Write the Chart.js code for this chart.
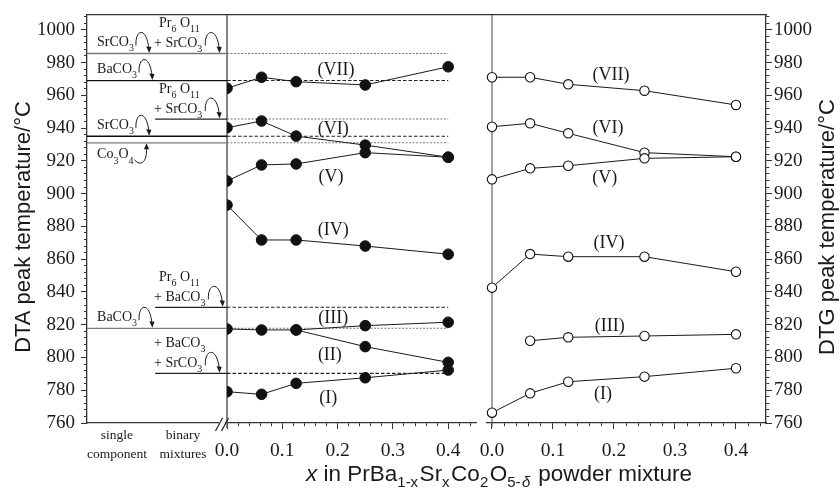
<!DOCTYPE html>
<html><head><meta charset="utf-8">
<script src="https://cdn.jsdelivr.net/npm/chart.js@4/dist/chart.umd.min.js"></script>
<style>html,body{margin:0;padding:0;background:#fff}canvas{display:block}</style>
</head><body>
<canvas id="c" width="840" height="495" style="width:840px;height:495px"></canvas>
<script>
// ---------- data ----------
const xFractions = [0, 0.0625, 0.125, 0.25, 0.4];
const dtaI   = [779.1, 777.5, 784.2, 787.6, 792.3];
const dtaII  = [null, null, 816.8, 806.6, 797.0];
const dtaIII = [817.4, 816.8, 816.8, 819.4, 821.5];
const dtaIV  = [893.0, 871.7, 871.7, 868.0, 863.0];
const dtaV   = [907.7, 917.5, 918.1, 925.0, 922.2];
const dtaVI  = [940.2, 944.3, 935.1, 929.6, 922.2];
const dtaVII = [964.3, 971.0, 968.3, 966.3, 977.4];
const dtgI   = [766.3, 778.1, 785.2, 788.3, 793.4];
const dtgIII = [null, 810.2, 812.3, 813.1, 814.1];
const dtgIV  = [842.6, 863.1, 861.5, 861.5, 852.3];
const dtgV   = [908.7, 915.4, 917.0, 921.5, 922.5];
const dtgVI  = [940.8, 942.9, 936.8, 925.0, 922.5];
const dtgVII = [971.0, 971.0, 966.7, 962.8, 954.1];
const dtaNames = ['(I)','(II)','(III)','(IV)','(V)','(VI)','(VII)'];
const dtgNames = ['(I)','(III)','(IV)','(V)','(VI)','(VII)'];
// reference peaks of single components and binary mixtures
const singleTemps  = [985.5, 969.0, 935.0, 931.0, 817.8];
const singleLabels = ['SrCO_3','BaCO_3','SrCO_3','Co_3O_4','BaCO_3'];
const binaryTemps  = [985.5, 945.5, 830.6, 790.3];
const binaryLabels = [['Pr_6 O_11','+ SrCO_3'],['Pr_6 O_11','+ SrCO_3'],['Pr_6 O_11','+ BaCO_3'],['+ BaCO_3','+ SrCO_3']];
const guideTemps   = [985.5, 969.0, 945.5, 935.0, 931.0, 830.6, 817.8, 790.3];
const regionLabels = [['single','component'],['binary','mixtures']];
const xTickLabels  = ['0.0','0.1','0.2','0.3','0.4'];
const yTickLabels  = ['760','780','800','820','840','860','880','900','920','940','960','980','1000'];

// ---------- layout / styles ----------
const X_MIN = -0.2532, X_MAX = 0.9747, XB_MIN = -0.6639, XB_MAX = 0.4492;
const Y_MIN = 760, Y_MAX = 1009;
const SERIF = '"Liberation Serif", "Times New Roman", serif';
const SANS = '"Liberation Sans", Arial, sans-serif';
const INK = '#1a1a1a';
const uFromDTG = v => X_MIN + (v - XB_MIN) / (XB_MAX - XB_MIN) * (X_MAX - X_MIN);
const BIN_U = -0.130;       // where binary-mixture lines start
const GUIDE_END = 0.4;
const guideStyle = t => ([985.5, 945.5, 931.0, 817.8].includes(t) ? {c:'#777', d:[2,1.5]} : {c:'#222', d:[3.5,2]});
const singleColor = t => ([985.5, 931.0, 817.8].includes(t) ? '#7a7a7a' : '#111');

function series(name, arr, dtg) {
  return {
    label: name,
    data: xFractions.map((x, i) => ({x, y: arr[i]})).filter(p => p.y !== null),
    xAxisID: dtg ? 'xb' : 'x', yAxisID: 'y',
    borderColor: INK, borderWidth: 1,
    pointRadius: dtg ? 4.7 : 5.3, pointHoverRadius: dtg ? 4.7 : 5.3,
    pointBackgroundColor: dtg ? '#fff' : '#111', pointBorderColor: '#111',
    pointBorderWidth: dtg ? 1.1 : 1,
    tension: 0, order: 0,
    clip: dtg ? 10 : {left: -140, right: 10, top: 10, bottom: 10}
  };
}
function seg(x0, x1, t, color, dash, width, axis) {
  return {data: [{x: x0, y: t}, {x: x1, y: t}], xAxisID: axis || 'x', yAxisID: 'y',
    borderColor: color, borderWidth: width || 1.2, borderDash: dash || [], pointRadius: 0,
    pointHoverRadius: 0, order: 5, clip: false};
}

const datasets = [];
[dtaI, dtaII, dtaIII, dtaIV, dtaV, dtaVI, dtaVII].forEach((a, i) => datasets.push(series('DTA ' + dtaNames[i], a, false)));
[dtgI, dtgIII, dtgIV, dtgV, dtgVI, dtgVII].forEach((a, i) => datasets.push(series('DTG ' + dtgNames[i], a, true)));
singleTemps.forEach(t => datasets.push(seg(X_MIN, 0, t, singleColor(t), [], 1.3)));
binaryTemps.forEach(t => datasets.push(seg(BIN_U, 0, t, '#222', [], 1.2)));
guideTemps.forEach(t => { const s = guideStyle(t); datasets.push(seg(0, GUIDE_END, t, s.c, s.d, 1.1)); });
// vertical separators
datasets.push({data: [{x: 0, y: 757}, {x: 0, y: Y_MAX}], xAxisID: 'x', yAxisID: 'y', borderColor: '#666', borderWidth: 1.6, pointRadius: 0, order: 6, clip: false});
datasets.push({data: [{x: 0, y: 757.5}, {x: 0, y: Y_MAX}], xAxisID: 'xb', yAxisID: 'y', borderColor: '#555', borderWidth: 1.1, pointRadius: 0, order: 6, clip: false});

// ---------- ticks ----------
function xTicks() {
  const t = [];
  for (let k = 0; k <= 22; k++) {
    const v = k * 0.02;
    t.push({value: v, minor: k % 5 !== 0, txt: k % 5 === 0 ? xTickLabels[k / 5] : ''});
  }
  for (let k = 0; k <= 22; k++) {
    const v = k * 0.02;
    t.push({value: uFromDTG(v), minor: k % 5 !== 0, txt: k % 5 === 0 ? xTickLabels[k / 5] : ''});
  }
  return t;
}
function yTicks() {
  const t = [];
  for (let v = Y_MIN; v <= 1008; v += 4) {
    const major = (v - Y_MIN) % 20 === 0;
    t.push({value: v, minor: !major, txt: major ? yTickLabels[(v - Y_MIN) / 20] : ''});
  }
  return t;
}
const minorDashOut = c => (c.tick && c.tick.minor) ? [3, 30] : [];
const minorDashIn = c => (c.tick && c.tick.minor) ? [0, 3, 30] : [];

// ---------- rich text helpers ----------
function richParts(str) {
  const out = []; const re = /_(\d+)/g; let last = 0, m;
  while ((m = re.exec(str))) {
    if (m.index > last) out.push([str.slice(last, m.index), false]);
    out.push([m[1], true]); last = re.lastIndex;
  }
  if (last < str.length) out.push([str.slice(last), false]);
  return out;
}
function drawRich(ctx, str, x, y, size, align) {
  const parts = richParts(str);
  const fN = size + 'px ' + SERIF, fS = Math.round(size * 0.72) + 'px ' + SERIF;
  let w = 0;
  parts.forEach(([t, s]) => { ctx.font = s ? fS : fN; w += ctx.measureText(t).width; });
  let cx = align === 'center' ? x - w / 2 : x;
  ctx.textAlign = 'left'; ctx.textBaseline = 'middle';
  parts.forEach(([t, s]) => { ctx.font = s ? fS : fN; ctx.fillText(t, cx, s ? y + size * 0.45 : y); cx += ctx.measureText(t).width; });
  return cx;
}
function arrowDown(ctx, sx, ly, ex) {
  ctx.beginPath(); ctx.moveTo(sx, ly - 8);
  ctx.bezierCurveTo(sx - 1, ly - 25, ex - 2, ly - 27, ex, ly - 4); ctx.stroke();
  ctx.beginPath(); ctx.moveTo(ex + 0.3, ly - 0.5); ctx.lineTo(ex - 2.8, ly - 7); ctx.lineTo(ex + 2.4, ly - 6.5); ctx.closePath(); ctx.fill();
}
function arrowUp(ctx, sx, ly, ex) {
  ctx.beginPath(); ctx.moveTo(sx, ly + 17);
  ctx.bezierCurveTo(sx + 6, ly + 24, ex + 1, ly + 20, ex, ly + 4); ctx.stroke();
  ctx.beginPath(); ctx.moveTo(ex, ly + 0.5); ctx.lineTo(ex - 2.6, ly + 6.5); ctx.lineTo(ex + 2.6, ly + 6.5); ctx.closePath(); ctx.fill();
}

const romanDTA = [
  {n: '(VII)', u: 0.197, t: 975.0}, {n: '(VI)', u: 0.192, t: 939.4}, {n: '(V)', u: 0.188, t: 910.1},
  {n: '(IV)', u: 0.192, t: 877.8}, {n: '(III)', u: 0.192, t: 824.1}, {n: '(II)', u: 0.186, t: 801.5},
  {n: '(I)', u: 0.183, t: 775.4}];
const romanDTG = [
  {n: '(VII)', v: 0.195, t: 972.4}, {n: '(VI)', v: 0.19, t: 940.0}, {n: '(V)', v: 0.185, t: 909.5},
  {n: '(IV)', v: 0.192, t: 869.8}, {n: '(III)', v: 0.193, t: 819.2}, {n: '(I)', v: 0.182, t: 777.7}];

const annot = {
  id: 'annot',
  afterDraw(chart) {
    const {ctx, chartArea: ca, scales: {x, xb, y}} = chart;
    const px = u => x.getPixelForValue(u), py = t => y.getPixelForValue(t);
    ctx.save();
    // gap in bottom axis between panels
    ctx.fillStyle = '#fff';
    const g0 = px(0.452), g1 = xb.getPixelForValue(-0.01);
    ctx.fillRect(g0, ca.bottom - 2, g1 - g0, 4);
    // axis break marks
    const bx = px(0) - 5;
    ctx.fillRect(bx - 3, ca.bottom - 2, 6, 4);
    ctx.strokeStyle = '#222'; ctx.lineWidth = 1.2;
    [bx - 3, bx + 3].forEach(cx => { ctx.beginPath(); ctx.moveTo(cx - 3.5, ca.bottom + 8); ctx.lineTo(cx + 3.5, ca.bottom - 5); ctx.stroke(); });

    ctx.fillStyle = INK; ctx.strokeStyle = INK; ctx.lineWidth = 1;
    // single component labels
    singleTemps.forEach((t, i) => {
      const ly = py(t);
      const below = singleLabels[i].startsWith('Co');
      const r = drawRich(ctx, singleLabels[i], px(-0.235), below ? ly + 12 : ly - 11, 14, 'left');
      if (below) arrowUp(ctx, r + 1, ly, r + 13); else arrowDown(ctx, r + 2, ly, r + 15);
    });
    // binary mixture labels
    binaryTemps.forEach((t, i) => {
      const ly = py(t);
      const [top, low] = binaryLabels[i];
      const indent = top.startsWith('Pr') ? 5 : 0;
      drawRich(ctx, top, px(-0.132) + indent, ly - 30, 14, 'left');
      const r = drawRich(ctx, low, px(-0.132), ly - 10, 14, 'left');
      arrowDown(ctx, r + 3, ly, r + 17);
    });
    // roman labels
    romanDTA.forEach(o => drawRich(ctx, o.n, px(o.u), py(o.t), 18, 'center'));
    romanDTG.forEach(o => drawRich(ctx, o.n, xb.getPixelForValue(o.v), py(o.t), 18, 'center'));
    // region labels under the left panel
    ctx.font = '13.5px ' + SERIF; ctx.textAlign = 'center'; ctx.textBaseline = 'middle';
    [-0.199, -0.0796].forEach((u, i) => {
      ctx.fillText(regionLabels[i][0], px(u), ca.bottom + 12);
      ctx.fillText(regionLabels[i][1], px(u), ca.bottom + 31);
    });
    // axis titles
    ctx.font = '22px ' + SANS; ctx.textAlign = 'center'; ctx.textBaseline = 'middle';
    const cy = (ca.top + ca.bottom) / 2 + 8;
    [[24, 'DTA peak temperature/°C'], [828, 'DTG peak temperature/°C']].forEach(([tx, s]) => {
      ctx.save(); ctx.translate(tx, cy); ctx.rotate(-Math.PI / 2); ctx.fillText(s, 0, 0); ctx.restore();
    });
    // x title with subscripts
    const parts = [['x','i'],[' in PrBa',''],['1-x','s'],['Sr',''],['x','s'],['Co',''],['2','s'],['O',''],['5-','s'],['δ','si'],[' powder mixture','']];
    let cx = 306; const base = 481;
    ctx.textAlign = 'left'; ctx.textBaseline = 'alphabetic';
    parts.forEach(([t, k]) => {
      const sub = k.includes('s'), it = k.includes('i');
      ctx.font = (it ? 'italic ' : '') + (sub ? '15px ' : '22.5px ') + SANS;
      ctx.fillText(t, cx, sub ? base + 6 : base);
      cx += ctx.measureText(t).width + (sub ? 1.5 : 0);
    });
    ctx.restore();
  }
};

new Chart(document.getElementById('c'), {
  type: 'line',
  data: {datasets},
  plugins: [annot],
  options: {
    responsive: false, animation: false, devicePixelRatio: 1,
    layout: {padding: 0},
    plugins: {legend: {display: false}, tooltip: {enabled: false}},
    scales: {
      x: {
        type: 'linear', position: 'bottom', min: X_MIN, max: X_MAX,
        afterBuildTicks: s => { s.ticks = xTicks(); },
        afterFit: s => { s.height = 72; s.paddingLeft = 0; s.paddingRight = 0; },
        ticks: {autoSkip: false, maxRotation: 0, padding: 10, color: INK, font: {family: SERIF, size: 19.5},
          callback: (v, i, t) => t[i].txt},
        grid: {drawOnChartArea: false, tickLength: 6, tickColor: '#333', tickWidth: 1, tickBorderDash: minorDashOut},
        border: {display: true, color: '#333', width: 1.3}
      },
      xb: {type: 'linear', position: 'bottom', display: false, min: XB_MIN, max: XB_MAX},
      xt: {
        type: 'linear', position: 'top', min: 0, max: 1,
        afterFit: s => { s.height = 15; s.paddingLeft = 0; s.paddingRight = 0; },
        ticks: {display: false}, grid: {drawOnChartArea: false, drawTicks: false},
        border: {display: true, color: '#333', width: 1.3}
      },
      y: {
        type: 'linear', position: 'left', min: Y_MIN, max: Y_MAX,
        afterBuildTicks: s => { s.ticks = yTicks(); },
        afterFit: s => { s.width = 87; s.paddingTop = 0; s.paddingBottom = 0; },
        ticks: {autoSkip: false, padding: 6, color: INK, font: {family: SERIF, size: 19},
          callback: (v, i, t) => t[i].txt},
        grid: {drawOnChartArea: false, tickLength: 6, tickColor: '#333', tickBorderDash: minorDashIn},
        border: {display: true, color: '#333', width: 1.3}
      },
      y2: {
        type: 'linear', position: 'right', min: Y_MIN, max: Y_MAX,
        afterBuildTicks: s => { s.ticks = yTicks(); },
        afterFit: s => { s.width = 74; s.paddingTop = 0; s.paddingBottom = 0; },
        ticks: {autoSkip: false, padding: 2, color: INK, font: {family: SERIF, size: 19},
          callback: (v, i, t) => t[i].txt},
        grid: {drawOnChartArea: false, tickLength: 6, tickColor: '#333', tickBorderDash: minorDashOut},
        border: {display: true, color: '#333', width: 1.3}
      }
    }
  }
});
</script>
</body></html>
